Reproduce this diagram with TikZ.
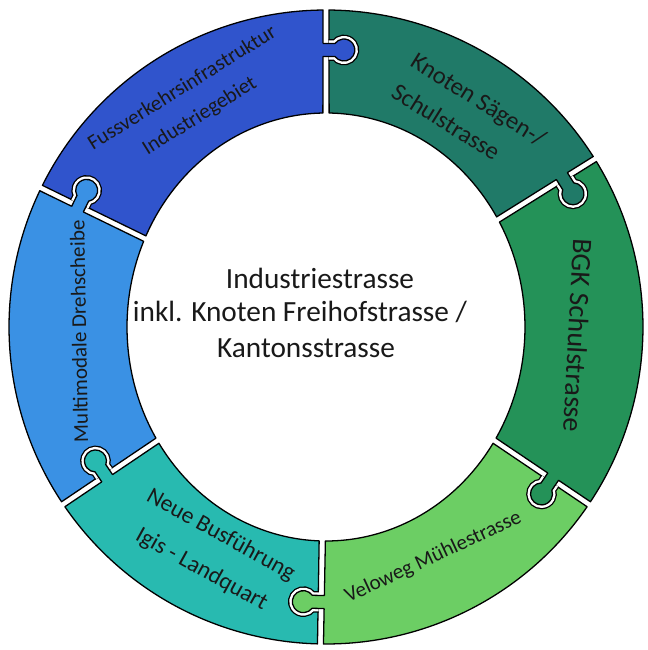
\documentclass[tikz,border=0pt]{standalone}
\usepackage{fontspec}
\setmainfont{Carlito}
\begin{document}
\begin{tikzpicture}[x=0.03cm,y=0.03cm]
\def\R{317}
\def\rx{199}
\def\ry{214}
\def\g{3}
\definecolor{cFuss}{RGB}{48,84,204}
\definecolor{cKnot}{RGB}{32,122,104}
\definecolor{cBGK}{RGB}{36,146,88}
\definecolor{cVelo}{RGB}{108,206,100}
\definecolor{cNeue}{RGB}{40,186,176}
\definecolor{cMulti}{RGB}{58,145,228}
\definecolor{ink}{RGB}{25,25,25}
\tikzset{
  outl/.style={draw=black, line width=1.1pt, line join=round},
  segtext/.style={text=ink, align=center, inner sep=0pt},
  midtext/.style={text=ink, font=\fontsize{25}{30}\selectfont, anchor=base, inner sep=0pt},
}
\newcommand\ringpiece[3]{%
  \pgfmathsetmacro\oA{#3-asin(\g/\R)}%
  \pgfmathsetmacro\oB{#2+asin(\g/\R)}%
  \pgfmathsetmacro\iA{#3-asin(\g/206)}%
  \pgfmathsetmacro\iB{#2+asin(\g/206)}%
  \pgfmathsetmacro\pA{atan2(\rx*sin(\iA),\ry*cos(\iA))}%
  \pgfmathsetmacro\pB{atan2(\rx*sin(\iB),\ry*cos(\iB))}%
  \pgfmathsetmacro\pA{ifthenelse(\pA<\pB,\pA+360,\pA)}%
  \path[fill=#1, outl] (\oA:\R) arc[start angle=\oA, end angle=\oB, radius=\R]
     -- ({\rx*cos(\pB)},{\ry*sin(\pB)}) arc[start angle=\pB, end angle=\pA, x radius=\rx, y radius=\ry] -- cycle;
}
\newcommand\ringknob[3]{%
  \begin{scope}[rotate=#1]
    \begin{scope}
      \clip (150,{-\g+0.5}) rectangle (340,-70);
      \draw[black, line width=7.4pt] (#2-6.5,12) -- (#2-6.5,-9) arc[start angle=126.22, end angle=413.78, radius=11] -- (#2+6.5,12);
      \draw[white, line width=5.2pt] (#2-6.5,12) -- (#2-6.5,-9) arc[start angle=126.22, end angle=413.78, radius=11] -- (#2+6.5,12);
    \end{scope}
    \fill[#3] (#2-6.5,12) -- (#2-6.5,-9) arc[start angle=126.22, end angle=413.78, radius=11] -- (#2+6.5,12) -- cycle;
    \begin{scope}
      \clip (150,{\g+0.2}) rectangle (340,-70);
      \draw[outl] (#2-6.5,12) -- (#2-6.5,-9) arc[start angle=126.22, end angle=413.78, radius=11] -- (#2+6.5,12);
    \end{scope}
  \end{scope}
}
\useasboundingbox (-326,-323) rectangle (321,327);
% ring pieces
\ringpiece{cFuss}{90}{154}
\ringpiece{cKnot}{32}{90}
\ringpiece{cBGK}{-34}{32}
\ringpiece{cVelo}{-91}{-34}
\ringpiece{cNeue}{-146}{-91}
\ringpiece{cMulti}{154}{214}
% puzzle knobs
\ringknob{90}{277}{cFuss}
\ringknob{32}{280}{cKnot}
\ringknob{-34}{272}{cBGK}
\ringknob{-91}{275}{cVelo}
\ringknob{214}{266}{cNeue}
\ringknob{154}{275}{cMulti}
% labels
\node[segtext, rotate=32, font=\fontsize{18}{28}\selectfont] (tFuss) at (121:262) {Fussverkehrsinfrastruktur\\Industriegebiet};
\node[segtext, align=left, rotate=-32, font=\fontsize{21}{31}\selectfont] (tKnot) at (56:256) {Knoten Sägen-/\\Schulstrasse};
\node[segtext, rotate=-93, font=\fontsize{24}{28}\selectfont] (tBGK) at (-2:252) {BGK Schulstrasse};
\node[segtext, rotate=25, font=\fontsize{18}{24}\selectfont] (tVelo) at (-65:254) {Veloweg Mühlestrasse};
\node[segtext, rotate=-29, font=\fontsize{20}{34}\selectfont] (tNeue) at (-117:253) {Neue Busführung\\Igis - Landquart};
\node[segtext, rotate=91, font=\fontsize{18}{24}\selectfont] (tMulti) at (181:247) {Multimodale Drehscheibe};
\node[midtext] (c1) at (-6,38) {Industriestrasse};
\node[midtext] (c2) at (-26,5) {inkl. Knoten Freihofstrasse /};
\node[midtext] (c3) at (-20,-31) {Kantonsstrasse};
\end{tikzpicture}
\end{document}
